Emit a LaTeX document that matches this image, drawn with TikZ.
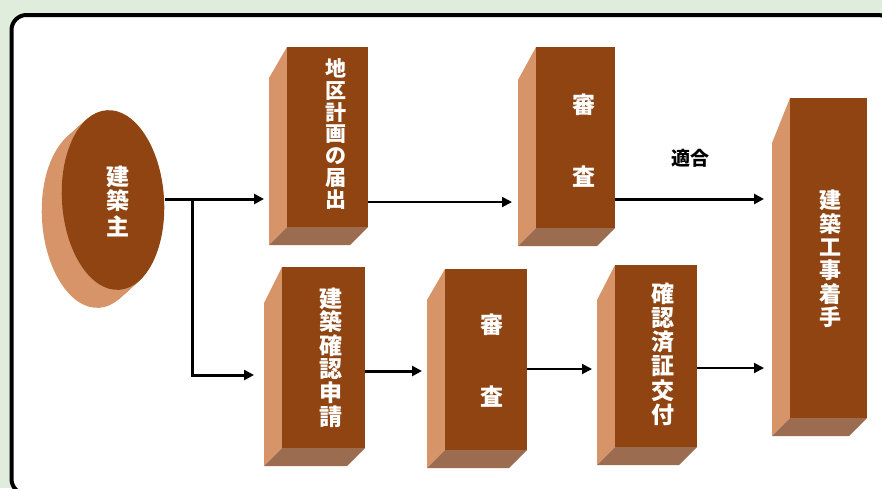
\documentclass[tikz,border=0pt]{standalone}
\usepackage{fontspec}
\newfontfamily\cjk{Noto Sans CJK JP}
\usetikzlibrary{calc,arrows.meta,shapes.geometric}
\definecolor{bg}{RGB}{224,237,221}
\definecolor{frontc}{RGB}{143,68,18}
\definecolor{sidec}{RGB}{214,148,104}
\definecolor{botc}{RGB}{156,108,80}
\tikzset{
  boxfront/.style={rectangle, fill=frontc, inner sep=0pt},
  vtext/.style={text=white, align=center, inner sep=0pt, font=\cjk\bfseries\fontsize{23}{25}\selectfont},
  arrthick/.style={draw=black, line width=3pt, -{Triangle[length=10pt,width=10pt]}},
  arrthin/.style={draw=black, line width=2pt, -{Triangle[length=10pt,width=10pt]}},
}
% name, x1, y1, x2, y2, side drop
\newcommand\brick[6]{%
  \fill[sidec] (#2,#3) -- (#2-18,#3+#6) -- (#2-18,#5+18) -- (#2,#5) -- cycle;
  \fill[botc] (#2,#5) -- (#4,#5) -- (#4-18,#5+18) -- (#2-18,#5+18) -- cycle;
  \node[boxfront, minimum width={(#4-#2)*1pt}, minimum height={(#5-#3)*1pt}] (#1) at ({(#2+#4)/2},{(#3+#5)/2}) {};
  \coordinate (#1s) at (#2-18,#3);
}
\begin{document}
\begin{tikzpicture}[x=1pt,y=-1pt]
\useasboundingbox (0,0) rectangle (882,488);
\clip (0,0) rectangle (882,488);
\fill[bg] (0,0) rectangle (882,488);
\draw[line width=4pt, fill=white, rounded corners=15pt] (11.5,15) rectangle (893,494);

% owner (cylinder-like ellipse)
\foreach \t in {0,0.05,...,1.0}{
  \fill[sidec] ({93+20*\t},{218-18*\t}) ellipse [x radius=51, y radius=90, rotate=4];
}
\node[ellipse, fill=frontc, minimum width=102pt, minimum height=180pt, inner sep=0pt, rotate=4] (O) at (113,200) {};
\node[vtext] (Ot) at ($(O.center)+(5,1)$) {建\\築\\主};

% boxes
\brick{A}{287}{47}{368}{227}{31}
\brick{B}{536}{47}{615}{228}{33}
\brick{C}{282}{267}{365}{448}{36}
\brick{D}{445}{269}{527}{450}{31}
\brick{E}{615}{265}{697}{447}{35}
\brick{F}{790}{98}{867}{418}{45}

\node[vtext, font=\cjk\bfseries\fontsize{21}{21.8}\selectfont] (At) at ($(A.center)+(8,-3)$) {地\\区\\計\\画\\の\\届\\出};
\node[vtext] (Bt) at ($(B.center)+(8,3)$) {審\\[47pt]査};
\node[vtext, font=\cjk\bfseries\fontsize{23}{23.6}\selectfont] (Ct) at ($(C.center)+(7,0)$) {建\\築\\確\\認\\申\\請};
\node[vtext] (Dt) at ($(D.center)+(6,1.5)$) {審\\[47pt]査};
\node[vtext, font=\cjk\bfseries\fontsize{23}{24.2}\selectfont] (Et) at ($(E.center)+(7,-2)$) {確\\認\\済\\証\\交\\付};
\node[vtext, font=\cjk\bfseries\fontsize{22}{23.4}\selectfont] (Ft) at ($(F.center)+(2,1)$) {建\\築\\工\\事\\着\\手};

% connectors
\coordinate (o1) at ($(O.center)+(52,-1)$);
\coordinate (j1) at ($(o1)+(27,0)$);
\draw[arrthick, shorten >=5pt] (o1) -- (o1 -| As);
\draw[arrthick, shorten >=10pt] (j1) |- ($(C.east -| Cs)+(0,17.5)$);
\coordinate (a1) at ($(A.east)+(0,65)$);
\draw[arrthin, shorten >=6pt] (a1) -- (a1 -| Bs);
\coordinate (b1) at ($(B.east)+(0,61.5)$);
\draw[arrthick, shorten >=8pt] (b1) -- (b1 -| Fs);
\node[font=\cjk\bfseries\fontsize{19}{19}\selectfont] (ok) at ($(b1)!0.48!(b1 -| Fs)+(0,-41)$) {適合};
\coordinate (c1) at ($(C.east)+(0,13.5)$);
\draw[arrthick, shorten >=5pt] (c1) -- (c1 -| Ds);
\coordinate (d1) at ($(D.east)+(0,9.5)$);
\draw[arrthin, shorten >=5pt] (d1) -- (d1 -| Es);
\coordinate (e1) at ($(E.east)+(0,12)$);
\draw[arrthin, shorten >=8pt] (e1) -- (e1 -| Fs);
\end{tikzpicture}
\end{document}
